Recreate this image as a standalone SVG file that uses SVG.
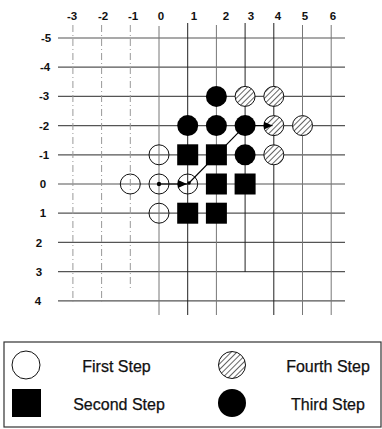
<svg xmlns="http://www.w3.org/2000/svg" width="382" height="429" viewBox="0 0 382 429">
<style>
.hl{stroke:#555;stroke-width:1.2;fill:none}
.vd{stroke:#222;stroke-width:1;fill:none}
.vg{stroke:#777;stroke-width:1;fill:none}
.vs{stroke:#999;stroke-width:1;fill:none;stroke-dasharray:7 3 1 3}
.ax{font-family:"Liberation Sans",Arial,sans-serif;font-size:11.5px;font-weight:bold;fill:#111;text-anchor:middle}
.lg{font-family:"Liberation Sans",Arial,sans-serif;font-size:16px;fill:#111;text-anchor:middle;stroke:#111;stroke-width:0.25}
.s1{fill:none;stroke:#111;stroke-width:1}
.s2{fill:#000}
.s3{fill:#000}
.s4{fill:url(#hatch);stroke:#111;stroke-width:1}
.cn{stroke:#000;stroke-width:1.1;fill:none}
</style>
<defs>
<pattern id="hatch" patternUnits="userSpaceOnUse" width="4" height="4" patternTransform="rotate(45)">
<rect width="4" height="4" fill="#fff"/>
<line x1="0" y1="0" x2="0" y2="4" stroke="#111" stroke-width="1.3"/>
</pattern>
<marker id="ah" markerWidth="10" markerHeight="8" refX="9" refY="4" orient="auto" markerUnits="userSpaceOnUse">
<path d="M0,0 L9,4 L0,8 Z" fill="#000"/>
</marker>
</defs>
<rect width="382" height="429" fill="#fff"/>
<g id="grid">
<line class="hl" x1="58" y1="38" x2="345" y2="38"/>
<line class="hl" x1="58" y1="67.2" x2="345" y2="67.2"/>
<line class="hl" x1="58" y1="96.4" x2="345" y2="96.4"/>
<line class="hl" x1="58" y1="125.6" x2="345" y2="125.6"/>
<line class="hl" x1="58" y1="154.8" x2="345" y2="154.8"/>
<line class="hl" x1="58" y1="184" x2="345" y2="184"/>
<line class="hl" x1="58" y1="213.2" x2="345" y2="213.2"/>
<line class="hl" x1="58" y1="242.4" x2="345" y2="242.4"/>
<line class="hl" x1="58" y1="271.6" x2="345" y2="271.6"/>
<line class="hl" x1="58" y1="300.8" x2="345" y2="300.8"/>
<line class="vs" x1="72.9" y1="25" x2="72.9" y2="302"/>
<line class="vs" x1="101.6" y1="25" x2="101.6" y2="302"/>
<line class="vs" x1="130.3" y1="25" x2="130.3" y2="290"/>
<line class="vg" x1="159" y1="26" x2="159" y2="315"/>
<line class="vd" x1="187.7" y1="23" x2="187.7" y2="315"/>
<line class="vg" x1="216.4" y1="25" x2="216.4" y2="315"/>
<line class="vd" x1="245.1" y1="23" x2="245.1" y2="272"/>
<line class="vd" x1="273.8" y1="23" x2="273.8" y2="315"/>
<line class="vg" x1="302.5" y1="25" x2="302.5" y2="315"/>
<line class="vg" x1="331.2" y1="25" x2="331.2" y2="315"/>
</g>
<g id="axis-labels">
<text class="ax" x="72" y="20">-3</text>
<text class="ax" x="103" y="20">-2</text>
<text class="ax" x="133" y="20">-1</text>
<text class="ax" x="161" y="20">0</text>
<text class="ax" x="194" y="20">1</text>
<text class="ax" x="226" y="20">2</text>
<text class="ax" x="251" y="20">3</text>
<text class="ax" x="278" y="20">4</text>
<text class="ax" x="305" y="20">5</text>
<text class="ax" x="333" y="20">6</text>
<text class="ax" x="46" y="42">-5</text>
<text class="ax" x="45" y="71">-4</text>
<text class="ax" x="44" y="100">-3</text>
<text class="ax" x="44" y="129.5">-2</text>
<text class="ax" x="44" y="158.5">-1</text>
<text class="ax" x="43" y="188">0</text>
<text class="ax" x="43" y="217">1</text>
<text class="ax" x="39" y="246.5">2</text>
<text class="ax" x="39" y="275.5">3</text>
<text class="ax" x="38" y="305">4</text>
</g>
<g id="first-step">
<circle id="n-0-m1" class="s1" cx="159" cy="154.8" r="10"/>
<circle id="n-m1-0" class="s1" cx="130.3" cy="184" r="10"/>
<circle id="n-0-0" class="s1" cx="159" cy="184" r="10"/>
<circle id="n-1-0" class="s1" cx="187.7" cy="184" r="10"/>
<circle id="n-0-1" class="s1" cx="159" cy="213.2" r="10"/>
</g>
<g id="second-step">
<rect id="n-1-m1" class="s2" x="177.2" y="144.3" width="21" height="21"/>
<rect id="n-2-m1" class="s2" x="205.9" y="144.3" width="21" height="21"/>
<rect id="n-2-0" class="s2" x="205.9" y="173.5" width="21" height="21"/>
<rect id="n-3-0" class="s2" x="234.6" y="173.5" width="21" height="21"/>
<rect id="n-1-1" class="s2" x="177.2" y="202.7" width="21" height="21"/>
<rect id="n-2-1" class="s2" x="205.9" y="202.7" width="21" height="21"/>
</g>
<g id="third-step">
<circle id="n-2-m3" class="s3" cx="216.4" cy="96.4" r="10.5"/>
<circle id="n-1-m2" class="s3" cx="187.7" cy="125.6" r="10.5"/>
<circle id="n-2-m2" class="s3" cx="216.4" cy="125.6" r="10.5"/>
<circle id="n-3-m2" class="s3" cx="245.1" cy="125.6" r="10.5"/>
<circle id="n-3-m1" class="s3" cx="245.1" cy="154.8" r="10.5"/>
</g>
<g id="fourth-step">
<circle id="n-3-m3" class="s4" cx="245.1" cy="96.4" r="10"/>
<circle id="n-4-m3" class="s4" cx="273.8" cy="96.4" r="10"/>
<circle id="n-4-m2" class="s4" cx="273.8" cy="125.6" r="10"/>
<circle id="n-5-m2" class="s4" cx="302.5" cy="125.6" r="10"/>
<circle id="n-4-m1" class="s4" cx="273.8" cy="154.8" r="10"/>
</g>
<g id="connectors">
<circle cx="159" cy="184" r="2.2" fill="#000"/>
<line class="cn" x1="159" y1="184" x2="187" y2="184" marker-end="url(#ah)"/>
<circle cx="189" cy="183" r="1.8" fill="#000"/>
<line class="cn" x1="189" y1="183" x2="245.1" y2="125.6"/>
<line class="cn" x1="245.1" y1="125.6" x2="272.5" y2="125.6" marker-end="url(#ah)"/>
</g>
<g id="legend">
<rect x="4" y="342" width="377" height="85" fill="none" stroke="#333" stroke-width="1.2"/>
<circle class="s1" cx="26" cy="365" r="14"/>
<text class="lg" x="116.5" y="372">First Step</text>
<rect class="s2" x="12" y="389" width="29" height="28"/>
<text class="lg" x="119" y="410">Second Step</text>
<circle class="s4" cx="232" cy="365" r="13.5"/>
<text class="lg" x="328" y="372">Fourth Step</text>
<circle class="s3" cx="232" cy="403" r="14"/>
<text class="lg" x="328" y="410">Third Step</text>
</g>
</svg>
